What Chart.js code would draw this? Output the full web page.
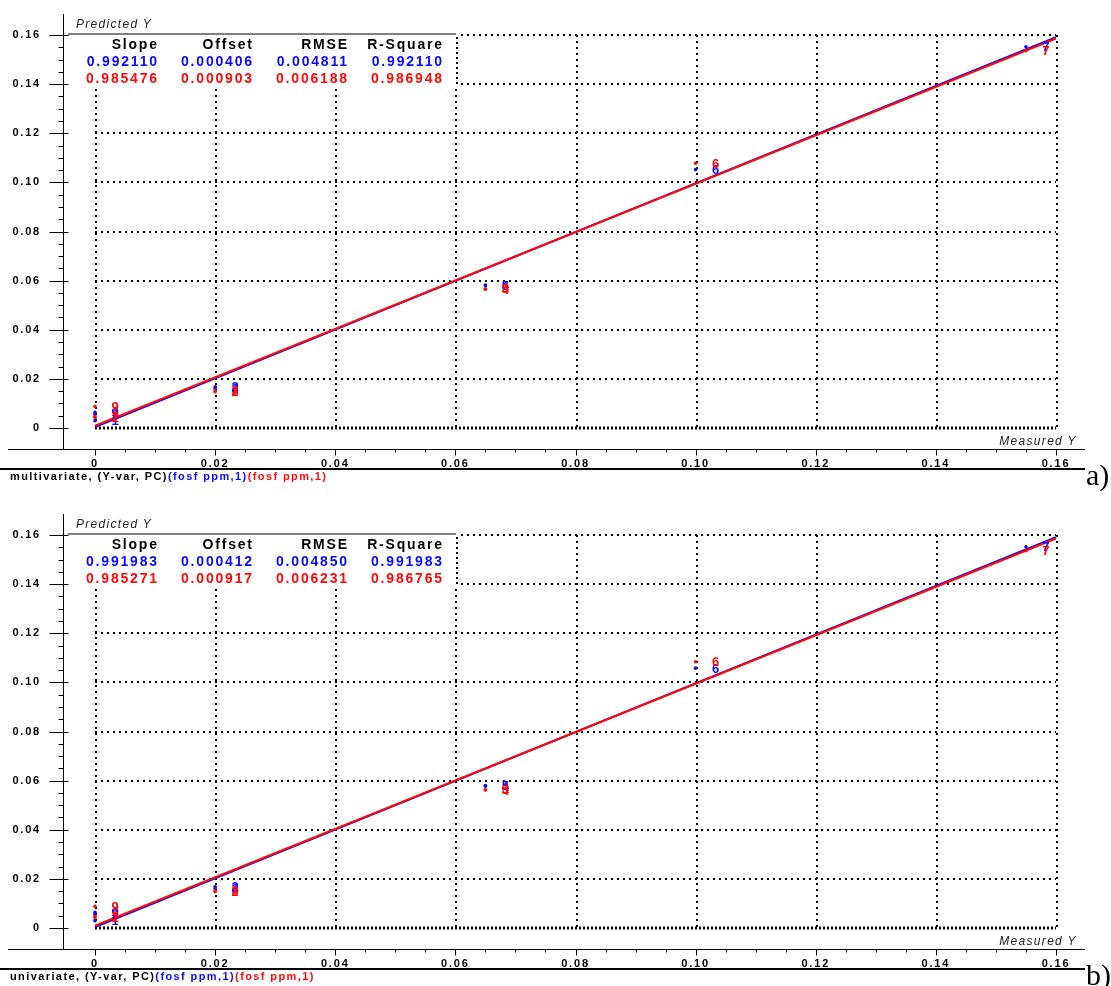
<!DOCTYPE html>
<html>
<head>
<meta charset="utf-8">
<title>Predicted vs Measured Y</title>
<script src="https://cdn.jsdelivr.net/npm/chart.js@4.4.1/dist/chart.umd.min.js"></script>
<style>
  html, body { margin: 0; padding: 0; background: #fff; }
  body { width: 1111px; height: 986px; position: relative; overflow: hidden;
         font-family: "Liberation Sans", Arial, sans-serif; }
  .panel { position: absolute; left: 0; width: 1111px; height: 500px; }
  .panel canvas { position: absolute; left: 0; top: 0; }
  .t { position: absolute; white-space: nowrap; line-height: 1; }
  .axt { font-style: italic; font-size: 12px; color: #222; letter-spacing: 1.3px; }
  .cell { font-weight: bold; font-size: 14px; letter-spacing: 1.8px; }
  .cap { font-weight: bold; font-size: 11px; letter-spacing: 1.4px; color: #000; }
  .tag { font-family: "Liberation Serif", "Times New Roman", serif; font-size: 30px; line-height: 30px; color: #000; }
</style>
</head>
<body>
<div class="panel" id="panelA" style="top:0"><canvas id="chartA" width="1111" height="500"></canvas></div>
<div class="panel" id="panelB" style="top:500px"><canvas id="chartB" width="1111" height="500"></canvas></div>
<script>
// ---- axes ----
const X_TICKS = [0, 0.02, 0.04, 0.06, 0.08, 0.10, 0.12, 0.14, 0.16];
const X_TICK_LABELS = ['0', '0.02', '0.04', '0.06', '0.08', '0.10', '0.12', '0.14', '0.16'];
const Y_TICKS = [0, 0.02, 0.04, 0.06, 0.08, 0.10, 0.12, 0.14, 0.16];
const Y_TICK_LABELS = ['0', '0.02', '0.04', '0.06', '0.08', '0.10', '0.12', '0.14', '0.16'];
const MINOR_STEP = 0.005;
const X_RANGE = [-0.00533, 0.16483];
const Y_RANGE = [-0.00855, 0.16855];
const LINE_X = [0, 0.16];

// ---- samples (measured reference values and sample ids) ----
const sampleIds = ['9', '7', '1', '2', '3', '5', '4', '6', '7'];
const measured  = [0, 0, 0, 0.02, 0.02, 0.065, 0.065, 0.10, 0.155];

// ---- panel a: multivariate ----
const predBlueA = [0.0064, 0.0055, 0.0030, 0.0168, 0.0162, 0.0582, 0.0579, 0.1052, 0.1552];
const predRedA  = [0.0088, 0.0047, 0.0042, 0.0148, 0.0152, 0.0567, 0.0565, 0.1078, 0.1536];
const statHeaders = ['Slope', 'Offset', 'RMSE', 'R-Square'];
const statsBlueA = [0.992110, 0.000406, 0.004811, 0.992110];
const statsRedA  = [0.985476, 0.000903, 0.006188, 0.986948];
const captionA = ['multivariate, (Y-var, PC)', '(fosf ppm,1)', '(fosf ppm,1)'];

// ---- panel b: univariate ----
const predBlueB = [0.0064, 0.0055, 0.0030, 0.0168, 0.0162, 0.0580, 0.0577, 0.1058, 0.1552];
const predRedB  = [0.0088, 0.0047, 0.0042, 0.0148, 0.0152, 0.0563, 0.0562, 0.1084, 0.1536];
const statsBlueB = [0.991983, 0.000412, 0.004850, 0.991983];
const statsRedB  = [0.985271, 0.000917, 0.006231, 0.986765];
const captionB = ['univariate, (Y-var, PC)', '(fosf ppm,1)', '(fosf ppm,1)'];

const BLUE = '#0a0aff';
const RED = '#ff0a0a';

function points(ys) { return measured.map((m, i) => ({ x: m, y: ys[i] })); }
function fitLine(stats) { return LINE_X.map(v => ({ x: v, y: stats[1] + stats[0] * v })); }

// dotted grid, zero lines and the statistics box (under the data)
const framePlugin = {
  id: 'frame',
  beforeDatasetsDraw(chart) {
    const { ctx, scales: { x, y } } = chart;
    const x0 = x.getPixelForValue(0), x1 = x.getPixelForValue(0.16);
    const y0 = y.getPixelForValue(0), y1 = y.getPixelForValue(0.16);
    const seg = (ax, ay, bx, by) => { ctx.beginPath(); ctx.moveTo(ax, ay); ctx.lineTo(bx, by); ctx.stroke(); };
    ctx.save();
    ctx.strokeStyle = '#000';
    ctx.lineWidth = 2;
    ctx.setLineDash([2, 4]);
    X_TICKS.forEach(v => { const px = Math.round(x.getPixelForValue(v)) + 1; seg(px, y1, px, y0); });
    Y_TICKS.filter(v => v > 0).forEach(v => { const py = Math.round(y.getPixelForValue(v)); seg(x0, py, x1, py); });
    ctx.setLineDash([2, 2]);
    ctx.lineWidth = 3;
    seg(x0, Math.round(y0), x1, Math.round(y0));
    // statistics box
    ctx.setLineDash([]);
    const bl = chart.chartArea.left + 5, br = 456, bt = Math.round(y1) - 1, bb = bt + 53;
    ctx.fillStyle = '#fff';
    ctx.fillRect(bl, bt, br - bl + 2, bb - bt);
    ctx.strokeStyle = '#808080';
    ctx.lineWidth = 2;
    seg(bl, bt, br, bt);
    ctx.strokeStyle = '#000';
    ctx.setLineDash([2, 3]);
    seg(br + 1, bt + 3, br + 1, bb);
    ctx.restore();
  },
  afterDatasetsDraw(chart) {
    // sample ids, written beside their points
    const { ctx } = chart;
    ctx.save();
    ctx.letterSpacing = '0px';
    ctx.font = 'bold 13px "Liberation Sans", Arial, sans-serif';
    ctx.textAlign = 'center';
    ctx.textBaseline = 'middle';
    chart.data.datasets.forEach((ds, di) => {
      if (!ds.ids) return;
      const meta = chart.getDatasetMeta(di);
      ctx.fillStyle = ds.backgroundColor;
      meta.data.forEach((pt, i) => ctx.fillText(ds.ids[i], pt.x + 20, pt.y + 1));
    });
    ctx.restore();
  },
  afterDraw(chart) {
    // axis lines with major and minor ticks, and the rule under the tick labels
    const { ctx, chartArea: a, scales: { x, y } } = chart;
    const seg = (ax, ay, bx, by) => { ctx.beginPath(); ctx.moveTo(ax, ay); ctx.lineTo(bx, by); ctx.stroke(); };
    ctx.save();
    ctx.strokeStyle = '#000';
    ctx.lineWidth = 1;
    const ax = Math.round(a.left) + 0.5, ay = Math.round(a.bottom) + 0.5;
    seg(ax, a.top, ax, ay);
    seg(8, ay, a.right, ay);
    for (let v = 0; v <= 0.16 + 1e-9; v += MINOR_STEP) {
      const py = Math.round(y.getPixelForValue(v)) + 0.5;
      const px = Math.round(x.getPixelForValue(v)) + 0.5;
      const major = Math.abs(v / 0.02 - Math.round(v / 0.02)) < 1e-6;
      if (major) { seg(ax - 14, py, ax + 5, py); seg(px, ay, px, ay + 6); }
      else { seg(ax - 5, py, ax, py); seg(px, ay, px, ay + 3); }
    }
    ctx.lineWidth = 2;
    seg(0, 469, a.right, 469);
    ctx.restore();
  }
};

const spacingPlugin = {
  id: 'spacing',
  beforeDraw(chart) { chart.ctx.letterSpacing = '1.8px'; },
  afterDraw(chart) { chart.ctx.letterSpacing = '0px'; }
};

function makeChart(canvasId, blue, red, sBlue, sRed) {
  const tickFont = { family: '"Liberation Sans", Arial, sans-serif', size: 11, weight: 'bold' };
  return new Chart(document.getElementById(canvasId), {
    type: 'scatter',
    data: {
      datasets: [
        { label: 'fit blue', data: fitLine(sBlue), showLine: true, borderColor: BLUE, borderWidth: 2,
          pointRadius: 0, order: 3 },
        { label: 'fit red', data: fitLine(sRed), showLine: true, borderColor: RED, borderWidth: 2,
          pointRadius: 0, order: 2 },
        { label: 'blue', data: points(blue), ids: sampleIds, backgroundColor: BLUE, borderWidth: 0,
          pointRadius: 1.8, order: 1 },
        { label: 'red', data: points(red), ids: sampleIds, backgroundColor: RED, borderWidth: 0,
          pointRadius: 1.8, order: 0 }
      ]
    },
    options: {
      responsive: false,
      animation: false,
      devicePixelRatio: 1,
      layout: { padding: { left: 0, right: 26, top: 14, bottom: 0 } },
      plugins: { legend: { display: false }, tooltip: { enabled: false } },
      scales: {
        x: {
          type: 'linear', min: X_RANGE[0], max: X_RANGE[1],
          afterBuildTicks: s => { s.ticks = X_TICKS.map(v => ({ value: v })); },
          afterFit: s => { s.height = 51; s.paddingLeft = 0; s.paddingRight = 0; },
          grid: { display: false, drawTicks: false }, border: { display: false },
          ticks: { font: tickFont, color: '#000', padding: 8, maxRotation: 0, autoSkip: false,
                   callback: (v) => X_TICK_LABELS[X_TICKS.findIndex(t => Math.abs(t - v) < 1e-9)] }
        },
        y: {
          type: 'linear', min: Y_RANGE[0], max: Y_RANGE[1],
          afterBuildTicks: s => { s.ticks = Y_TICKS.map(v => ({ value: v })); },
          afterFit: s => { s.width = 63; s.paddingTop = 0; s.paddingBottom = 0; },
          grid: { display: false, drawTicks: false }, border: { display: false },
          ticks: { font: tickFont, color: '#000', padding: 22, autoSkip: false,
                   callback: (v) => Y_TICK_LABELS[Y_TICKS.findIndex(t => Math.abs(t - v) < 1e-9)] }
        }
      }
    },
    plugins: [spacingPlugin, framePlugin]
  });
}

function addText(panel, cls, text, left, top, color, rightEdge) {
  const el = document.createElement('div');
  el.className = 't ' + cls;
  el.textContent = text;
  el.style.top = top + 'px';
  if (rightEdge !== undefined) el.style.right = (1111 - rightEdge - 1.8) + 'px';
  else el.style.left = left + 'px';
  if (color) el.style.color = color;
  panel.appendChild(el);
  return el;
}

function decorate(panelId, sBlue, sRed, caption, tag) {
  const p = document.getElementById(panelId);
  addText(p, 'axt', 'Predicted Y', 76, 18);
  addText(p, 'axt', 'Measured Y', 0, 435, null, 1075);
  const cols = [157, 252, 347, 442];
  statHeaders.forEach((h, i) => addText(p, 'cell', h, 0, 37, '#000', cols[i]));
  sBlue.forEach((v, i) => addText(p, 'cell', v.toFixed(6), 0, 54, BLUE, cols[i]));
  sRed.forEach((v, i) => addText(p, 'cell', v.toFixed(6), 0, 71, RED, cols[i]));
  const cap = document.createElement('div');
  cap.className = 't cap';
  cap.style.left = '10px';
  cap.style.top = '471px';
  [['#000', caption[0]], [BLUE, caption[1]], [RED, caption[2]]].forEach(([c, s]) => {
    const sp = document.createElement('span');
    sp.style.color = c;
    sp.textContent = s;
    cap.appendChild(sp);
  });
  p.appendChild(cap);
  addText(p, 'tag', tag, 1086, 460);
}

makeChart('chartA', predBlueA, predRedA, statsBlueA, statsRedA);
makeChart('chartB', predBlueB, predRedB, statsBlueB, statsRedB);
decorate('panelA', statsBlueA, statsRedA, captionA, 'a)');
decorate('panelB', statsBlueB, statsRedB, captionB, 'b)');
</script>
</body>
</html>
